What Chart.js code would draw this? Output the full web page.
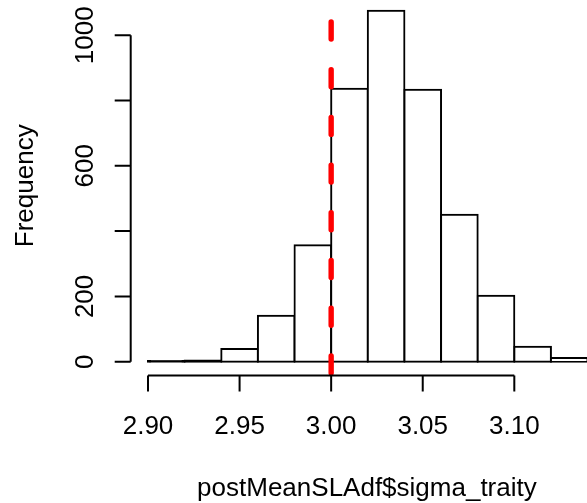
<!DOCTYPE html>
<html>
<head>
<meta charset="utf-8">
<title>Histogram of postMeanSLAdf$sigma_traity</title>
<script src="https://cdn.jsdelivr.net/npm/chart.js@4.4.1/dist/chart.umd.min.js"></script>
<style>
    html, body { margin: 0; padding: 0; background: #fff; }
    #wrap { width: 587px; height: 503px; }
</style>
</head>
<body>
<div id="wrap"><canvas id="histChart" width="587" height="503"></canvas></div>
<script>
// histogram bins (width 0.02) and counts
const binStarts = [2.90, 2.92, 2.94, 2.96, 2.98, 3.00, 3.02, 3.04, 3.06, 3.08, 3.10, 3.12];
const binWidth = 0.02;
const counts = [2, 4, 39, 141, 357, 836, 1075, 833, 450, 202, 46, 11];

// axis ticks
const xTicks = [2.90, 2.95, 3.00, 3.05, 3.10];
const xTickLabels = ["2.90", "2.95", "3.00", "3.05", "3.10"];
const yTicks = [0, 200, 400, 600, 800, 1000];
const yTickLabels = ["0", "200", "", "600", "", "1000"];

// reference value (dashed red line)
const trueValue = 3.00;

const xLabel = "postMeanSLAdf$sigma_traity";
const yLabel = "Frequency";

// plot region limits (R adds 4% on each side)
const xMin = 2.89055, xMax = 3.13969;
const yMin = -42.3, yMax = 1108;

const FONT = '26px "Liberation Sans", Arial, Helvetica, sans-serif';

// R style axes: detached lines, outward ticks, rotated y labels
const rAxes = {
    id: 'rAxes',
    afterDraw(chart) {
        const { ctx, chartArea } = chart;
        const x = chart.scales.x, y = chart.scales.y;
        ctx.save();
        ctx.strokeStyle = '#000';
        ctx.fillStyle = '#000';
        ctx.lineWidth = 2;
        ctx.font = FONT;

        // x axis
        const axY = chartArea.bottom;
        ctx.beginPath();
        ctx.moveTo(x.getPixelForValue(xTicks[0]), axY);
        ctx.lineTo(x.getPixelForValue(xTicks[xTicks.length - 1]), axY);
        xTicks.forEach(v => {
            const px = x.getPixelForValue(v);
            ctx.moveTo(px, axY);
            ctx.lineTo(px, axY + 16);
        });
        ctx.stroke();
        ctx.textAlign = 'center';
        ctx.textBaseline = 'alphabetic';
        xTicks.forEach((v, i) => ctx.fillText(xTickLabels[i], x.getPixelForValue(v), axY + 58.5));
        ctx.fillText(xLabel, x.getPixelForValue((xMin + 3.1496) / 2) - 1, axY + 120);

        // y axis
        const axX = chartArea.left;
        ctx.beginPath();
        ctx.moveTo(axX, y.getPixelForValue(yTicks[0]));
        ctx.lineTo(axX, y.getPixelForValue(yTicks[yTicks.length - 1]));
        yTicks.forEach(v => {
            const py = y.getPixelForValue(v);
            ctx.moveTo(axX, py);
            ctx.lineTo(axX - 16, py);
        });
        ctx.stroke();
        yTicks.forEach((v, i) => {
            if (!yTickLabels[i]) return;
            ctx.save();
            ctx.translate(axX - 37.7, y.getPixelForValue(v));
            ctx.rotate(-Math.PI / 2);
            ctx.fillText(yTickLabels[i], 0, 0);
            ctx.restore();
        });
        ctx.save();
        ctx.translate(axX - 97.7, (chartArea.top + chartArea.bottom) / 2 - 2);
        ctx.rotate(-Math.PI / 2);
        ctx.fillText(yLabel, 0, 0);
        ctx.restore();

        ctx.restore();
    }
};

const ctx = document.getElementById("histChart").getContext("2d");
new Chart(ctx, {
    type: 'bar',
    data: {
        datasets: [{
            label: "counts",
            data: binStarts.map((b, i) => ({ x: b + binWidth / 2, y: counts[i] })),
            backgroundColor: c => (c.raw && c.raw.y < 8 ? '#000' : '#fff'),
            borderColor: '#000',
            borderWidth: 2,
            borderSkipped: false,
            inflateAmount: 1,
            barPercentage: 1,
            categoryPercentage: 1,
            order: 2
        }, {
            type: 'line',
            label: "true value",
            data: [{ x: trueValue, y: yMin }, { x: trueValue, y: yMax }],
            borderColor: '#ff0000',
            borderWidth: 5.4,
            borderDash: [17, 30.7],
            borderDashOffset: 45.1,
            borderCapStyle: 'round',
            pointRadius: 0,
            fill: false,
            order: 1
        }]
    },
    options: {
        responsive: false,
        animation: false,
        events: [],
        layout: { padding: { left: 130.7, right: 0, top: 0, bottom: 127.5 } },
        plugins: {
            legend: { display: false },
            tooltip: { enabled: false }
        },
        scales: {
            x: {
                type: 'linear',
                display: false,
                offset: false,
                min: xMin,
                max: xMax,
                ticks: { stepSize: 0.05, includeBounds: false }
            },
            y: {
                type: 'linear',
                display: false,
                min: yMin,
                max: yMax
            }
        }
    },
    plugins: [rAxes]
});
</script>
</body>
</html>
